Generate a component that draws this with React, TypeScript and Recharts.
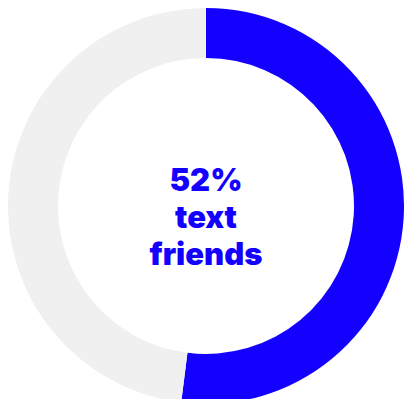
import React from "react";
import { PieChart, Pie, Cell, Label } from "recharts";

const categories = ["text friends", "other"];
const values = [52, 48];
const colors = ["#1400ff", "#f0f0f0"];
const headline = `${values[0]}%`;
const captionLines = ["text", "friends"];

const data = categories.map((name, i) => ({ name, value: values[i] }));

const CenterLabel = (props: any) => {
  const vb = props.viewBox || {};
  const cx = vb.cx ?? 198;
  const cy = vb.cy ?? 198;
  const lines = [headline, ...captionLines];
  const lh = 37;
  const firstBaseline = cy - 15;
  return (
    <text
      x={cx}
      textAnchor="middle"
      fill="#1400ff"
      fontFamily="Inter, 'Open Sans', sans-serif"
      fontWeight={900}
      fontSize={31}
    >
      {lines.map((l, i) => (
        <tspan key={i} x={cx} y={firstBaseline + i * lh}>
          {l}
        </tspan>
      ))}
    </text>
  );
};

export default function App() {
  return (
    <div style={{ position: "absolute", left: 8, top: 8, width: 396, height: 391, overflow: "hidden" }}>
      <PieChart width={396} height={396} margin={{ top: 0, right: 0, bottom: 0, left: 0 }}>
        <Pie
          data={data}
          dataKey="value"
          nameKey="name"
          cx={198}
          cy={198}
          innerRadius={148}
          outerRadius={198}
          startAngle={90}
          endAngle={-270}
          stroke="none"
          isAnimationActive={false}
        >
          {data.map((d, i) => (
            <Cell key={d.name} fill={colors[i]} />
          ))}
          <Label position="center" content={<CenterLabel />} />
        </Pie>
      </PieChart>
    </div>
  );
}
